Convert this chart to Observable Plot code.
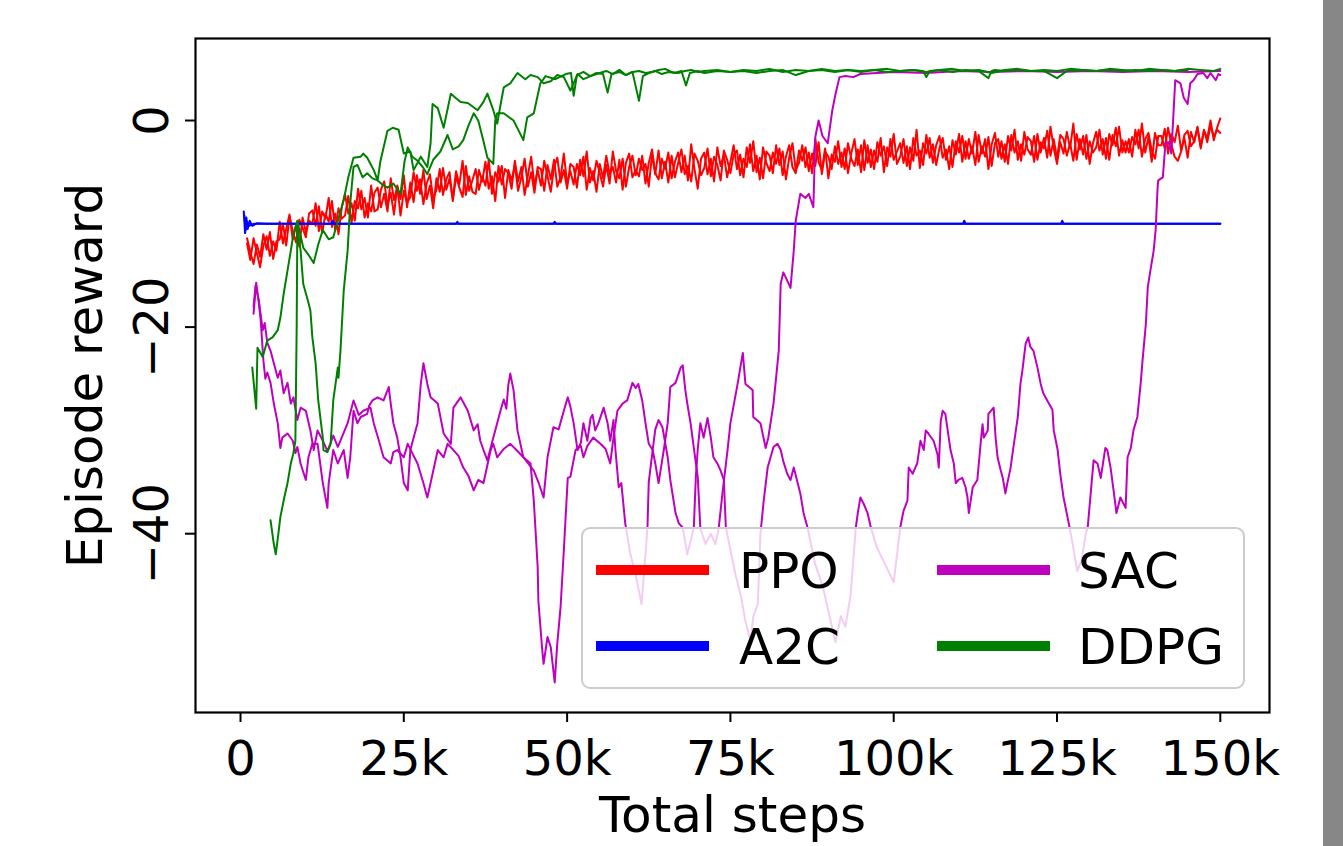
<!DOCTYPE html>
<html>
<head>
<meta charset="utf-8">
<script src="https://cdn.jsdelivr.net/npm/d3@7"></script>
<script src="https://cdn.jsdelivr.net/npm/@observablehq/plot@0.6"></script>
<style>
  html, body { margin: 0; padding: 0; background: #fff; }
  #wrap { position: relative; width: 1343px; height: 846px; overflow: hidden; font-family: "DejaVu Sans", sans-serif; }
  #bar { position: absolute; left: 1323px; top: 0; width: 20px; height: 846px; background: #878787; }
  #legend { position: absolute; left: 581px; top: 527px; width: 664px; height: 162px;
            background: rgba(255,255,255,0.8); border: 2px solid #cccccc; border-radius: 9px; box-sizing: border-box; }
  .lh { position: absolute; height: 10px; width: 113px; }
  .lt { position: absolute; font-size: 50px; line-height: 50px; color: #000; white-space: nowrap; }
</style>
</head>
<body>
<div id="wrap"><div id="bar"></div></div>
<script>
// ---------------- data (steps in thousands, episode reward) ----------------
const xTicks = [0, 25, 50, 75, 100, 125, 150];
const xTickLabels = ["0", "25k", "50k", "75k", "100k", "125k", "150k"];
const yTicks = [-40, -20, 0];
const yTickLabels = ["\u221240", "\u221220", "0"];
const xLabel = "Total steps";
const yLabel = "Episode reward";

const seriesNames = ["PPO", "A2C", "SAC", "DDPG"];
const seriesColors = ["#ff0000", "#0000ff", "#bf00bf", "#008000"];

// PPO logged every 0.5k steps, from 1k to 150k
const ppoSteps = [1,1.5,2,2.5,3,3.5,4,4.5,5,5.5,6,6.5,7,7.5,8,8.5,9,9.5,10,10.5,11,11.5,12,12.5,13,13.5,14,14.5,15,15.5,16,16.5,17,17.5,18,18.5,19,19.5,20,20.5,21,21.5,22,22.5,23,23.5,24,24.5,25,25.5,26,26.5,27,27.5,28,28.5,29,29.5,30,30.5,31,31.5,32,32.5,33,33.5,34,34.5,35,35.5,36,36.5,37,37.5,38,38.5,39,39.5,40,40.5,41,41.5,42,42.5,43,43.5,44,44.5,45,45.5,46,46.5,47,47.5,48,48.5,49,49.5,50,50.5,51,51.5,52,52.5,53,53.5,54,54.5,55,55.5,56,56.5,57,57.5,58,58.5,59,59.5,60,60.5,61,61.5,62,62.5,63,63.5,64,64.5,65,65.5,66,66.5,67,67.5,68,68.5,69,69.5,70,70.5,71,71.5,72,72.5,73,73.5,74,74.5,75,75.5,76,76.5,77,77.5,78,78.5,79,79.5,80,80.5,81,81.5,82,82.5,83,83.5,84,84.5,85,85.5,86,86.5,87,87.5,88,88.5,89,89.5,90,90.5,91,91.5,92,92.5,93,93.5,94,94.5,95,95.5,96,96.5,97,97.5,98,98.5,99,99.5,100,100.5,101,101.5,102,102.5,103,103.5,104,104.5,105,105.5,106,106.5,107,107.5,108,108.5,109,109.5,110,110.5,111,111.5,112,112.5,113,113.5,114,114.5,115,115.5,116,116.5,117,117.5,118,118.5,119,119.5,120,120.5,121,121.5,122,122.5,123,123.5,124,124.5,125,125.5,126,126.5,127,127.5,128,128.5,129,129.5,130,130.5,131,131.5,132,132.5,133,133.5,134,134.5,135,135.5,136,136.5,137,137.5,138,138.5,139,139.5,140,140.5,141,141.5,142,142.5,143,143.5,144,144.5,145,145.5,146,146.5,147,147.5,148,148.5,149,149.5,150];
const ppoRun1 = [-11.9,-13.5,-11.4,-12.8,-14.2,-12.1,-11.2,-13.1,-11.7,-12.6,
-9.8,-11.9,-10.5,-9.1,-11.5,-10.2,-12.2,-9.4,-10.8,-9.7,
-10.0,-8.0,-10.7,-8.8,-9.5,-7.5,-10.3,-9.0,-11.0,-8.4,
-7.1,-9.0,-8.0,-9.7,-6.6,-8.6,-7.5,-9.4,-6.3,-8.8,
-8.6,-6.7,-5.9,-8.2,-7.0,-9.1,-6.3,-7.6,-5.3,-8.4,
-6.0,-7.9,-5.3,-7.1,-4.8,-7.6,-6.3,-8.5,-5.6,-6.9,
-4.6,-6.7,-5.6,-7.6,-4.9,-6.2,-3.9,-7.2,-5.4,-6.9,
-7.1,-4.8,-5.9,-4.0,-6.6,-5.4,-7.8,-4.4,-6.2,-4.7,
-5.1,-6.6,-3.9,-5.9,-4.5,-7.2,-5.3,-3.5,-6.3,-4.8,
-6.3,-3.9,-5.4,-6.9,-4.5,-3.6,-6.0,-4.8,-6.6,-4.2,
-4.5,-6.5,-3.8,-5.4,-3.0,-6.0,-4.9,-6.9,-4.2,-5.6,
-3.4,-5.2,-4.5,-6.0,-3.8,-6.7,-4.1,-3.2,-5.5,-4.8,
-5.4,-3.4,-6.1,-4.1,-2.8,-5.1,-5.7,-3.7,-4.7,-3.1,
-5.6,-4.0,-3.1,-5.0,-3.4,-5.8,-2.3,-4.7,-6.6,-3.7,
-3.1,-5.2,-3.7,-5.9,-2.6,-4.4,-3.3,-5.5,-4.0,-2.4,
-4.7,-3.3,-5.5,-2.6,-4.1,-2.0,-5.0,-3.6,-5.6,-3.0,
-3.4,-5.1,-2.4,-4.3,-3.0,-5.7,-3.6,-2.2,-4.8,-4.1,
-2.4,-4.5,-3.1,-5.1,-1.8,-4.0,-4.8,-2.7,-5.6,-3.3,
-4.0,-2.0,-4.5,-2.7,-5.1,-3.2,-1.8,-4.3,-2.4,-4.8,
-2.4,-4.5,-2.9,-4.0,-1.7,-5.0,-2.6,-3.5,-1.3,-4.2,
-3.5,-1.8,-4.4,-2.6,-3.9,-0.9,-4.6,-2.2,-3.2,-1.7,
-4.1,-2.4,-1.5,-3.6,-2.8,-4.7,-1.9,-3.3,-1.3,-4.0,
-2.0,-3.7,-2.5,-4.3,-1.4,-3.2,-1.8,-4.7,-2.3,-1.2,
-3.5,-2.0,-4.0,-1.5,-2.9,-0.9,-3.8,-2.3,-3.3,-1.6,
-2.0,-4.0,-1.3,-3.1,-1.7,-3.6,-0.6,-2.7,-4.2,-2.1,
-3.2,-1.1,-2.7,-0.3,-3.8,-1.8,-3.3,-1.4,-4.2,-2.2,
-1.1,-2.9,-1.8,-3.7,-1.3,-2.4,-0.7,-3.4,-1.9,-3.1,
-1.8,-3.5,-0.9,-2.7,-0.3,-3.1,-1.6,-4.0,-1.2,-2.4,
-2.4,-0.8,-3.2,-1.3,-2.1,-0.5,-2.9,-1.7,-3.6,-1.1,
-2.1,-0.6,-2.7,-1.0,-1.7,0.0,-1.9,-0.7,0.2];
const ppoRun2 = [-11.4,-12.7,-13.9,-12.0,-13.2,-11.0,-12.5,-10.8,-13.4,-11.7,
-11.5,-10.0,-12.1,-9.3,-10.7,-11.8,-9.6,-10.4,-11.3,-9.0,
-8.7,-10.2,-8.3,-10.9,-9.0,-9.8,-7.8,-10.6,-8.5,-9.5,
-9.2,-7.3,-9.9,-7.8,-8.5,-6.8,-9.4,-8.0,-8.8,-7.0,
-6.5,-8.4,-7.1,-8.8,-5.6,-7.7,-6.4,-9.2,-6.8,-8.0,
-7.4,-5.0,-6.8,-5.7,-8.1,-6.1,-5.2,-7.6,-6.7,-4.7,
-7.2,-5.7,-5.0,-7.8,-5.4,-6.5,-7.4,-4.4,-6.8,-5.8,
-4.7,-6.7,-5.4,-6.3,-3.8,-7.1,-5.0,-5.9,-4.4,-7.5,
-4.8,-5.8,-4.3,-6.8,-5.5,-3.7,-6.4,-5.0,-7.0,-4.5,
-4.7,-6.8,-4.3,-5.7,-3.8,-6.4,-5.5,-3.2,-6.1,-4.9,
-6.2,-4.2,-5.3,-3.5,-6.7,-4.6,-5.8,-3.9,-5.1,-6.4,
-4.3,-6.1,-3.0,-4.9,-5.6,-3.7,-6.4,-4.5,-3.4,-5.3,
-3.7,-4.8,-4.2,-6.4,-3.3,-5.2,-2.9,-5.6,-4.0,-6.0,
-3.4,-5.5,-4.1,-2.8,-5.2,-4.4,-5.9,-3.2,-3.9,-5.3,
-4.6,-2.7,-5.4,-3.5,-4.3,-5.8,-2.9,-3.8,-5.1,-3.3,
-2.9,-5.3,-3.7,-4.5,-2.3,-4.9,-3.4,-5.7,-2.6,-4.1,
-4.9,-3.1,-4.2,-2.7,-5.3,-3.5,-2.4,-4.5,-5.1,-2.9,
-3.9,-2.6,-4.9,-3.2,-4.4,-2.1,-5.2,-3.0,-3.5,-4.7,
-2.5,-4.2,-3.1,-4.7,-2.2,-3.7,-4.4,-2.8,-5.0,-1.9,
-4.1,-2.8,-4.7,-2.1,-3.4,-2.5,-4.4,-1.8,-3.8,-3.0,
-2.2,-4.1,-2.5,-4.7,-1.7,-3.4,-2.9,-4.3,-1.4,-3.6,
-2.3,-4.3,-2.7,-1.7,-3.8,-2.5,-4.5,-2.0,-3.1,-1.5,
-3.7,-1.8,-3.2,-1.1,-4.0,-2.5,-3.5,-1.6,-4.4,-2.2,
-1.8,-3.7,-2.3,-4.2,-1.4,-3.1,-2.0,-3.9,-1.1,-2.8,
-3.3,-1.5,-3.8,-2.1,-2.7,-1.0,-3.4,-1.8,-3.7,-1.4,
-1.8,-3.4,-2.2,-3.9,-1.3,-2.8,-1.5,-3.7,-2.0,-3.1,
-2.6,-0.9,-3.3,-1.7,-3.8,-1.4,-2.5,-0.6,-3.1,-2.0,
-3.1,-1.6,-2.3,-0.9,-3.5,-1.8,-1.2,-2.9,-3.7,-1.5,
-1.5,-2.7,-0.7,-2.3,-3.5,-3.9,-3.0,-1.4,-1.0,-2.5,
-2.0,-0.7,-2.5,-0.9,-2.1,-0.5,-1.6,-0.9,-1.2];

const a2cSteps1 = [0.5,0.7,0.9,1.1,1.4,1.8,2.5,4,10,30,60,90,120,150];
const a2cRun1 = [-8.8,-10.9,-9.4,-10.5,-9.7,-10.2,-9.95,-10,-10,-10,-10,-10,-10,-10];
const a2cSteps2 = [0.6,0.8,1.0,1.3,2,5,13.9,14.1,14.3,33,33.2,33.4,47.9,48.1,48.3,110.6,110.8,111,125.6,125.8,126,150];
const a2cRun2 = [-9.2,-10.6,-9.8,-10.2,-10,-10,-10,-9.7,-10,-10,-9.8,-10,-10,-9.8,-10,-10,-9.7,-10,-10,-9.7,-10,-10];

const sacSteps1 = [2.0,2.4,2.8,3.1,3.5,3.8,4.1,4.6,5.1,5.7,6.1,6.4,7.2,8.0,8.4,8.7,9.2,10.0,10.4,11.0,11.8,12.6,13.3,13.5,14.2,14.9,15.8,16.4,16.8,17.3,17.9,18.4,19.4,19.7,20.2,21.0,21.9,22.7,23.0,23.4,24.0,24.5,25.0,25.6,26.0,27.1,27.6,28.0,28.6,29.1,30.2,31.1,32.2,32.6,33.7,34.8,35.7,36.3,36.7,37.2,37.8,38.7,39.8,40.3,40.7,41.0,41.3,41.8,42.4,43.3,44.4,44.9,45.5,45.6,46.2,46.4,47.0,47.5,48.1,48.5,49.0,49.5,50.1,50.5,51.3,52.1,52.5,53.1,54.0,55.1,55.9,56.6,57.1,57.7,58.5,59.2,60.0,60.5,60.9,61.5,62.0,62.5,63.1,63.5,64.0,64.3,64.8,65.4,65.8,66.6,67.4,67.7,68.1,68.4,68.9,69.4,70.0,70.4,71.2,72.0,72.7,73.2,73.8,74.6,75.0,76.1,76.9,77.3,78.4,78.5,79.6,80.4,80.8,81.6,82.4,82.7,83.1,83.7,84.2,84.7,85.0,85.7,86.5,87.0,87.7,88.0,88.5,89.1,89.9,90.6,91.1,91.7,92.6,93.8,94.9,100,105,110,115,120,125,130,135,140,145,150];
const sacRun1 = [-18.7,-15.7,-17.6,-19.4,-23.2,-25,-24.4,-25.4,-27.4,-29.3,-31.7,-30.7,-30.3,-31,-32.2,-31.6,-33.2,-34.8,-32.6,-31.3,-31.3,-35.1,-37.5,-35.1,-31.9,-33.2,-31.9,-34.6,-32.6,-28.1,-29.3,-28.7,-28.4,-27.6,-27.1,-26.8,-27.1,-25.8,-27.4,-29.3,-30.7,-32.6,-35.1,-35.8,-31.9,-29.3,-25.5,-23.5,-25.5,-26.8,-27.4,-30.3,-31.3,-27.8,-26.8,-28.1,-30,-29.4,-31.0,-31.9,-32.9,-30.7,-28.1,-27.0,-27.9,-25.6,-24.5,-26.1,-30,-32.6,-33.2,-36.8,-43.3,-46.5,-51.3,-52.6,-50,-51,-54.4,-50.6,-47.1,-41.6,-34.6,-34.5,-31.9,-31.5,-32.6,-31.5,-30.7,-31.3,-31.8,-33.2,-30.7,-28.1,-27.4,-27.1,-25.4,-25.9,-25.5,-27.1,-29.3,-31.3,-31.9,-33.2,-35.1,-33.9,-31.9,-29.3,-25.8,-25.4,-23.9,-23.7,-26.1,-27.4,-29.3,-31.7,-34.5,-39.5,-41,-40,-41,-39.5,-36,-31.7,-29.3,-25.5,-22.5,-25.5,-26.1,-28.7,-29.3,-31.7,-30.7,-27.4,-22.3,-15.8,-14.7,-15.5,-16.2,-12.6,-9.7,-7.1,-7.5,-7.1,-8.4,-1.6,0,-1.5,-2.2,1,2.6,4.2,4.3,4.2,4.5,4.7,4.6,4.8,4.7,4.8,4.7,4.8,4.7,4.8,4.7,4.8];
const sacSteps2 = [2.0,2.3,2.8,3.4,3.7,4.1,4.6,5.1,5.7,6.1,6.6,7.2,7.7,8.1,8.7,9.2,10.0,10.7,11.2,11.8,12.6,13.3,13.8,14.2,14.9,15.3,16.4,17.3,18.1,18.8,19.9,20.4,21.1,21.9,23.0,23.4,24.0,25.0,25.6,26.3,27.1,28.0,28.6,29.1,30.2,31.1,31.7,32.6,33.4,34.1,34.9,35.7,36.4,37.2,38.3,38.7,39.3,40.3,41.3,42.4,43.3,44.9,45.6,46.4,47.0,47.9,48.7,49.5,50.1,50.5,51.0,51.6,52.1,52.5,53.1,53.6,53.9,54.3,54.8,55.6,56.2,56.6,57.1,57.4,57.9,58.3,58.9,59.7,60.5,61.4,62.0,62.3,62.5,63.1,63.5,64.0,64.6,65.4,65.8,66.6,67.1,67.7,68.4,69.4,69.7,70.0,70.4,70.9,71.5,72.0,72.4,73.0,73.5,74.0,74.3,75.8,76.6,77.3,78.1,78.5,79.2,79.6,80.1,80.7,81.6,82.2,82.7,83.1,83.7,84.2,84.7,85.3,85.7,86.2,86.8,88.0,89.1,90.0,91.1,91.9,92.6,93.4,94.2,94.5,94.9,95.4,96.0,96.5,97.4,98.7,100.0,101.0,101.5,102.1,102.3,102.9,103.3,103.6,104.1,104.6,104.9,105.3,106.1,106.7,106.9,107.2,107.5,107.9,108.2,108.7,109.2,109.5,109.9,110.5,111.0,111.3,111.5,112.1,112.8,113.3,113.6,113.8,114.4,114.5,115.3,115.6,115.9,116.4,116.7,117.1,117.4,117.9,118.2,118.7,119.0,119.4,119.7,120.2,120.6,120.9,121.4,122.0,122.5,122.9,123.5,124.3,124.5,125.1,125.5,126.0,126.8,127.4,128.1,128.8,129.4,129.7,130.1,130.6,131.2,131.7,132.4,132.7,133.2,133.7,134.1,134.7,135.5,135.8,136.3,136.7,137.3,137.8,138.1,138.6,138.9,139.3,139.8,140.1,140.4,140.5,141.2,141.6,142.1,142.5,142.8,143.1,143.9,144.4,145.0,145.4,145.9,146.5,147.4,148.0,148.5,149.3,149.7,150.0];
const sacRun2 = [-18.0,-16.0,-17.4,-20.3,-19.6,-21.5,-22.3,-23.5,-24.9,-24.2,-26.4,-25.4,-27.4,-26.8,-29,-27.8,-28.1,-30,-31.9,-30,-31,-32,-31.2,-30.5,-31.6,-31,-29.3,-27.1,-28.5,-28.1,-27.8,-29.3,-30.8,-32.6,-33.2,-32.1,-31.9,-32.6,-31.3,-32.2,-33.2,-35.1,-36.5,-35.1,-31.9,-32.6,-31.3,-31.9,-32.5,-33.6,-34.4,-35.8,-34.8,-35.1,-31.9,-31.3,-32.6,-31.8,-31.3,-32.0,-32.6,-33.9,-35.0,-36.5,-32.6,-29.7,-29.9,-28.1,-26.8,-27.7,-29.3,-31.9,-31.2,-29.3,-31,-28.8,-28.5,-30,-29.3,-27.8,-29.3,-31,-29,-31.9,-35.5,-35.1,-39,-42,-44,-46.8,-42,-39.4,-35,-31.9,-29.9,-29,-29.7,-32.6,-34.8,-38,-39,-39.4,-42,-39.4,-34.6,-31.8,-29.3,-30.7,-28.8,-30.7,-32.6,-33.2,-33.9,-34.8,-39.4,-44,-46,-48.5,-50.4,-48,-46.8,-40,-36.8,-33.6,-31.6,-31.3,-31.9,-33,-34.2,-34.8,-33.6,-35.1,-36.1,-38,-39.4,-43,-45,-47.5,-50.5,-48,-49,-46,-39.4,-38,-36.5,-37.1,-38,-39.4,-41.3,-43,-44.7,-39.4,-37.8,-36.8,-33.6,-34.2,-33.6,-33.2,-31,-31.9,-30,-30.3,-31,-32.3,-33.6,-29.1,-28.1,-28.4,-29.7,-31.9,-33.2,-35.1,-34.8,-34.6,-35.5,-36.5,-38,-35.5,-34.8,-31.3,-29.4,-30.7,-30,-28.4,-27.8,-30.7,-32.6,-33.9,-34.6,-36.1,-35.1,-33.6,-32.2,-30,-28.7,-25.5,-24.2,-21.6,-21,-21.9,-22.3,-23.9,-25.5,-26.4,-27.1,-28,-30,-31.9,-34.2,-36.5,-39,-41,-43.6,-42.5,-40,-39.4,-36.5,-32.9,-33.2,-34.6,-31.7,-31.9,-33.6,-36,-38,-36.5,-37.5,-32.6,-31.7,-30,-28.7,-25.5,-23.2,-19.7,-16.1,-14.5,-12.6,-10.6,-6.5,-5.8,-5.5,-2.2,-2.1,-3.2,0.3,3.9,3.6,2.2,1.6,3.6,3.9,4.5,4.6,4.1,4.6,3.9,4.5,4.4];

const ddpgSteps1 = [1.8,2.4,2.6,3.4,4.1,4.9,5.7,6.1,6.6,7.2,7.7,8.1,8.7,9.6,10.4,11.2,11.9,12.6,13.5,14.2,15.0,15.8,16.5,17.3,18.4,18.8,19.4,20.4,21.0,21.4,22.5,23.3,24.2,25.0,26.0,26.5,27.6,28.6,29.1,29.4,30.2,31.1,32.2,32.9,33.7,34.8,36.3,37.2,37.8,38.7,39.3,39.8,40.3,41.3,42.4,43.6,44.4,45.5,46.4,47.5,48.5,49.5,50.5,51.6,52.5,53.6,55,56,57,58,59,60,61,62,63,64,65,66,67,68,69,70,71,73,75,77,79,81,83,85,87,89,91,93,95,97,99,101,103,105,107,109,111,113,115,117,119,121,123,125,127,129,131,133,135,137,139,141,143,145,147,149,150];
const ddpgRun1 = [-23.9,-27.9,-22,-22.9,-21.3,-21,-20.3,-19.1,-16.8,-14.5,-12.6,-11,-9.7,-12.3,-13,-13.8,-12,-10.6,-11.5,-11.3,-9.5,-7.7,-5.5,-3.6,-3.5,-3.2,-3.6,-4.8,-5.8,-4.0,-1.0,-0.7,-0.9,-3.2,-3.0,-4.8,-3.5,-4.5,-2.2,1.6,1.2,-0.7,2.6,2.2,1.8,1.7,1.0,1.8,2.6,1.0,-0.3,1.5,3.2,3.6,4.6,4.0,4.4,4.2,3.6,3.8,4.4,4.2,2.9,4.5,4.0,4.3,4.6,4.8,4.5,4.9,4.4,4.7,4.8,4.6,4.7,4.9,5.0,4.7,4.6,4.8,4.9,4.7,4.8,4.9,4.7,4.9,4.8,5.0,4.7,4.9,4.8,5.0,4.8,4.9,4.7,4.9,5.0,4.8,4.9,4.7,4.9,5.0,4.8,4.9,4.6,4.9,5.0,4.8,4.9,4.8,5.0,4.9,4.8,5.0,4.9,4.8,5.0,4.9,4.8,5.0,4.9,4.8,5.0,4.9];
const ddpgSteps2 = [4.6,5.1,5.4,5.8,6.1,6.7,7.2,7.7,8.1,8.4,8.6,8.7,9.2,9.6,10.3,10.7,11.0,11.5,11.9,12.6,12.7,13.3,13.8,14.2,14.9,15.0,15.3,15.8,16.4,16.8,17.3,17.9,18.7,19.4,20.2,21.0,21.7,22.5,23.4,24.5,25.1,25.6,26.3,27.1,27.9,28.6,29.5,30.6,31.7,32.5,33.4,34.1,34.9,35.7,36.4,37.2,37.8,38.7,39.0,39.3,40.3,41.8,42.6,43.3,43.9,44.9,45.9,46.7,48.2,49.8,50.6,51.0,51.5,52.5,53.5,54.5,55.5,56.2,56.8,58,59,60,61.0,61.6,62.5,63.5,64.5,65.5,66.5,67.5,68.2,68.8,70,71,73,75,77,79,81,83,85,87,89,91,93,95,97,99,101,103,104.5,105,105.5,107,109,111,113,114.5,115,115.5,117,119,121,123,125,126.5,127,127.5,129,131,133,135,137,139,141,143,145,147,149,150];
const ddpgRun2 = [-38.7,-41,-42,-40,-38.4,-36.5,-35.1,-33.2,-32.2,-31,-20,-10.2,-12.6,-15.8,-17.4,-18.4,-21,-23.5,-27.1,-30.7,-31.9,-32.1,-31.3,-27.1,-23.9,-24.9,-22.3,-16.5,-12.6,-8,-4.5,-4.3,-5.5,-5.1,-5.6,-5.8,-6.2,-6.5,-6.1,-7.1,-4.0,-2.6,-3.5,-3.9,-4.5,-5.2,-3.8,-3.0,-1.4,-2.8,-2.5,-1.9,-0.5,0.7,0.0,-2.0,-3.6,-4.2,0.0,0.7,0.7,0.0,-1.0,-1.9,0.3,0.7,3.6,4.3,4.0,4.5,4.6,2.4,4.4,4.7,4.3,4.6,4.5,2.7,4.5,4.7,4.4,4.7,1.9,4.3,4.6,4.8,4.5,4.7,4.6,4.8,3.4,4.6,4.8,4.6,4.8,4.7,4.8,4.6,4.8,4.9,4.4,4.8,4.9,4.7,4.9,4.8,4.9,4.7,4.8,4.9,4.8,4.2,4.8,4.9,4.7,4.9,4.8,4.1,4.8,4.9,4.8,4.9,4.8,4.8,4.1,4.8,4.9,4.8,4.9,4.8,4.9,4.8,4.9,4.8,4.9,4.8,4.9];

// ---------------- chart ----------------
function lineMark(steps, vals, color) {
  return Plot.line(vals, {x: steps, y: vals, stroke: color, strokeWidth: 2});
}

const chart = Plot.plot({
  width: 1343,
  height: 846,
  marginLeft: 195,
  marginRight: 74,
  marginTop: 38,
  marginBottom: 134,
  style: {fontFamily: "'DejaVu Sans', sans-serif", fontSize: "48px", background: "transparent", color: "#000"},
  x: {domain: [-6.89, 157.53]},
  y: {domain: [-57.31, 7.94]},
  marks: [
    lineMark(ppoSteps, ppoRun1, seriesColors[0]),
    lineMark(ppoSteps, ppoRun2, seriesColors[0]),
    lineMark(a2cSteps1, a2cRun1, seriesColors[1]),
    lineMark(a2cSteps2, a2cRun2, seriesColors[1]),
    lineMark(sacSteps1, sacRun1, seriesColors[2]),
    lineMark(sacSteps2, sacRun2, seriesColors[2]),
    lineMark(ddpgSteps1, ddpgRun1, seriesColors[3]),
    lineMark(ddpgSteps2, ddpgRun2, seriesColors[3]),
    Plot.frame({stroke: "#000", strokeWidth: 2.2}),
    Plot.axisX({
      ticks: xTicks,
      tickFormat: (d) => xTickLabels[xTicks.indexOf(d)],
      tickSize: 10,
      tickPadding: 18,
      strokeWidth: 2,
      label: null
    }),
    Plot.axisY({
      ticks: yTicks,
      tickFormat: (d) => yTickLabels[yTicks.indexOf(d)],
      tickSize: 10,
      tickPadding: 18,
      tickRotate: -90,
      strokeWidth: 2,
      label: null
    }),
    Plot.text([xLabel], {text: (d) => d, frameAnchor: "bottom", dy: 119, lineAnchor: "bottom", textAnchor: "middle", fontSize: 50}),
    Plot.text([yLabel], {text: (d) => d, frameAnchor: "left", dx: -129, rotate: -90, lineAnchor: "top", textAnchor: "middle", fontSize: 50})
  ]
});

const wrap = document.getElementById("wrap");
chart.style.position = "absolute";
chart.style.left = "0px";
chart.style.top = "0px";
wrap.insertBefore(chart, wrap.firstChild);

// ---------------- legend (semi-transparent box, as in the original) ----------------
const legend = document.createElement("div");
legend.id = "legend";
const handleLeft = [13, 354];
const textLeft = [156, 495];
const rowCenter = [41, 117];
const rowTextTop = [17, 93];
seriesNames.forEach((name, i) => {
  const col = Math.floor(i / 2), row = i % 2;
  const h = document.createElement("div");
  h.className = "lh";
  h.style.left = handleLeft[col] + "px";
  h.style.top = (rowCenter[row] - 5) + "px";
  h.style.background = seriesColors[i];
  legend.appendChild(h);
  const t = document.createElement("div");
  t.className = "lt";
  t.textContent = name;
  t.style.left = textLeft[col] + "px";
  t.style.top = rowTextTop[row] + "px";
  legend.appendChild(t);
});
wrap.appendChild(legend);
</script>
</body>
</html>
